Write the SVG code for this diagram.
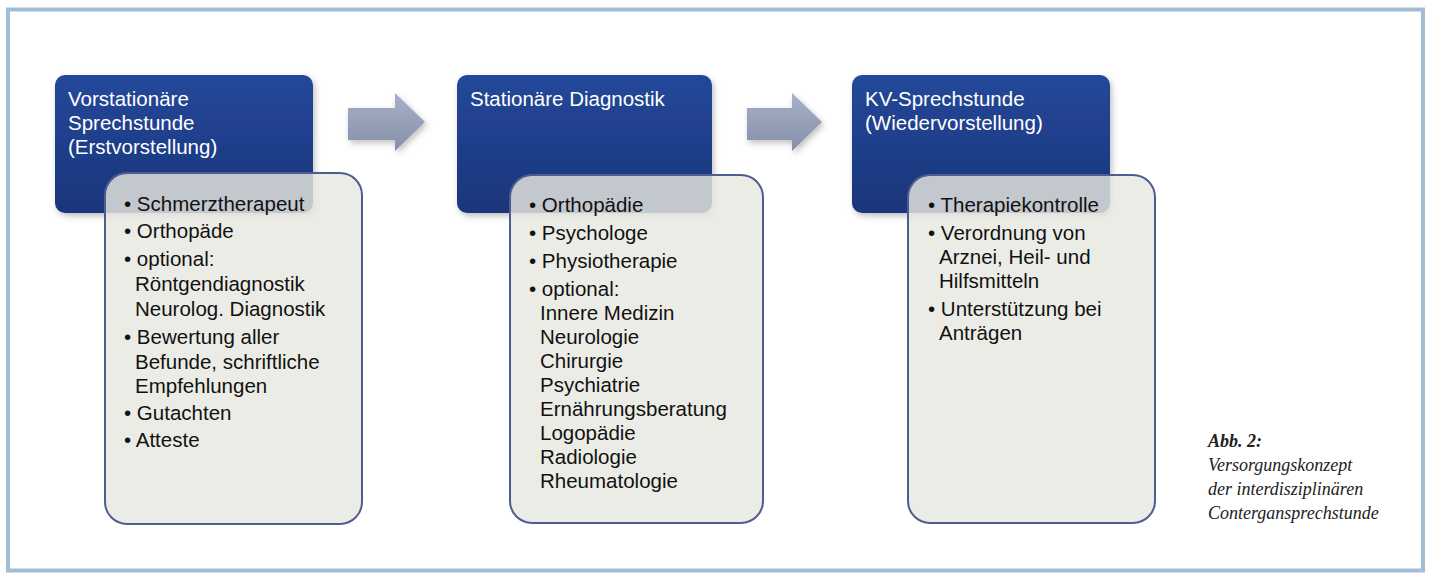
<svg xmlns="http://www.w3.org/2000/svg" width="1431" height="578" viewBox="0 0 1431 578">
  <defs>
    <linearGradient id="blueGrad" x1="0" y1="0" x2="0" y2="1">
      <stop offset="0" stop-color="#23489a"/>
      <stop offset="1" stop-color="#1b357a"/>
    </linearGradient>
    <linearGradient id="arrowGrad" x1="0" y1="0" x2="0" y2="1">
      <stop offset="0" stop-color="#a9b1c7"/>
      <stop offset="1" stop-color="#858fa9"/>
    </linearGradient>
    <filter id="shadow" x="-10%" y="-10%" width="130%" height="130%">
      <feDropShadow dx="2" dy="3" stdDeviation="3" flood-color="#000" flood-opacity="0.25"/>
    </filter>
  </defs>
  <style>
    .head { fill: url(#blueGrad); filter: url(#shadow); }
    .body { fill: #e8e8e0; fill-opacity: 0.82; stroke: #4f5c8f; stroke-width: 2; }
    .ht { font-family: "Liberation Sans", Arial, sans-serif; font-size: 20.5px; fill: #ffffff; }
    .bt { font-family: "Liberation Sans", Arial, sans-serif; font-size: 20.5px; fill: #111111; }
    .arrow { fill: url(#arrowGrad); filter: url(#shadow); }
    .cap { font-family: "Liberation Serif", "Times New Roman", serif; font-style: italic; font-size: 18px; fill: #222222; }
  </style>

  <rect x="0" y="0" width="1431" height="578" fill="#ffffff"/>
  <rect id="frame" x="8" y="9.5" width="1415" height="561" fill="none" stroke="#a3bcd5" stroke-width="4"/>

  <g id="connectors">
    <path class="arrow" d="M348,108 L395,108 L395,93 L425,122 L395,151 L395,140 L348,140 Z"/>
    <path class="arrow" d="M747,108 L792,108 L792,93 L822,122 L792,151 L792,140 L747,140 Z"/>
  </g>

  <g id="node1">
    <rect class="head" x="55" y="75" width="258" height="138" rx="10"/>
    <text class="ht" x="68" y="106">Vorstationäre</text>
    <text class="ht" x="68" y="130">Sprechstunde</text>
    <text class="ht" x="68" y="154">(Erstvorstellung)</text>
    <rect class="body" x="105" y="173" width="257" height="351" rx="22"/>
    <g class="bt">
      <text x="124" y="211">• Schmerztherapeut</text>
      <text x="124" y="238">• Orthopäde</text>
      <text x="124" y="266">• optional:</text>
      <text x="135" y="291">Röntgendiagnostik</text>
      <text x="135" y="316">Neurolog. Diagnostik</text>
      <text x="124" y="344">• Bewertung aller</text>
      <text x="135" y="369">Befunde, schriftliche</text>
      <text x="135" y="393">Empfehlungen</text>
      <text x="124" y="420">• Gutachten</text>
      <text x="124" y="447">• Atteste</text>
    </g>
  </g>

  <g id="node2">
    <rect class="head" x="457" y="75" width="255" height="138" rx="10"/>
    <text class="ht" x="470" y="106">Stationäre Diagnostik</text>
    <rect class="body" x="510" y="175" width="253" height="348" rx="22"/>
    <g class="bt">
      <text x="529" y="212">• Orthopädie</text>
      <text x="529" y="240">• Psychologe</text>
      <text x="529" y="268">• Physiotherapie</text>
      <text x="529" y="296">• optional:</text>
      <text x="540" y="320">Innere Medizin</text>
      <text x="540" y="344">Neurologie</text>
      <text x="540" y="368">Chirurgie</text>
      <text x="540" y="392">Psychiatrie</text>
      <text x="540" y="416">Ernährungsberatung</text>
      <text x="540" y="440">Logopädie</text>
      <text x="540" y="464">Radiologie</text>
      <text x="540" y="488">Rheumatologie</text>
    </g>
  </g>

  <g id="node3">
    <rect class="head" x="852" y="75" width="258" height="138" rx="10"/>
    <text class="ht" x="865" y="106">KV-Sprechstunde</text>
    <text class="ht" x="865" y="130">(Wiedervorstellung)</text>
    <rect class="body" x="908" y="175" width="247" height="348" rx="22"/>
    <g class="bt">
      <text x="928" y="212">• Therapiekontrolle</text>
      <text x="928" y="240">• Verordnung von</text>
      <text x="939" y="264">Arznei, Heil- und</text>
      <text x="939" y="288">Hilfsmitteln</text>
      <text x="928" y="316">• Unterstützung bei</text>
      <text x="939" y="340">Anträgen</text>
    </g>
  </g>

  <g id="caption">
    <text class="cap" x="1208" y="447" font-weight="bold">Abb. 2:</text>
    <text class="cap" x="1208" y="471">Versorgungskonzept</text>
    <text class="cap" x="1208" y="495">der interdisziplinären</text>
    <text class="cap" x="1208" y="519">Contergansprechstunde</text>
  </g>
</svg>
